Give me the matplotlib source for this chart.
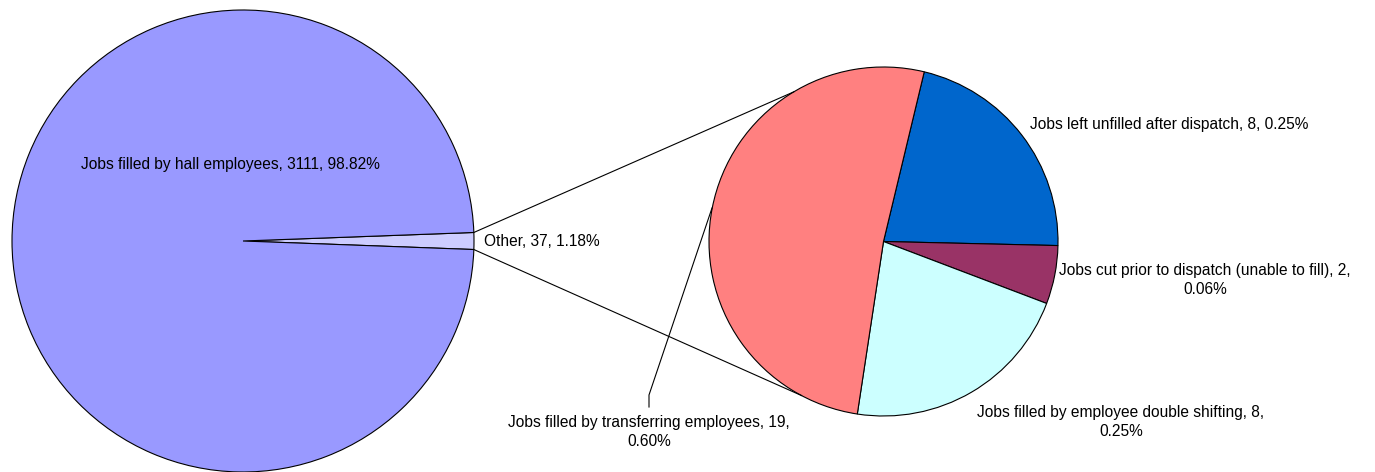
import numpy as np
import matplotlib.pyplot as plt

# ==================================================
# data
# ==================================================

main_labels = ['Jobs filled by hall employees', 'Other']
main_values = [3111, 37]

sub_labels = [
    'Jobs left unfilled after dispatch',
    'Jobs cut prior to dispatch (unable to fill)',
    'Jobs filled by employee double shifting',
    'Jobs filled by transferring employees',
]
sub_values = [8, 2, 8, 19]

total = sum(main_values)

main_colors = ['#9999FF', '#CCCCFF']
sub_colors = ['#0066CC', '#993366', '#CCFFFF', '#FF8080']

plt.rcParams['font.family'] = ['Liberation Sans', 'DejaVu Sans']

# ==================================================
# figure (axes in pixel units, y up)
# ==================================================

fig = plt.figure(figsize=(13.75, 4.72), dpi=100)
ax = fig.add_axes([0, 0, 1, 1])

main_c = (243, 231)
main_r = 231
sub_c = (883.5, 230.5)
sub_r = 174.5

other_share = main_values[1] / total * 360

ax.pie(
    [main_values[1], main_values[0]],
    colors=[main_colors[1], main_colors[0]],
    startangle=-other_share / 2,
    center=main_c,
    radius=main_r,
    wedgeprops=dict(edgecolor='black', linewidth=0.8),
)

ax.pie(
    sub_values,
    colors=sub_colors,
    startangle=76.5,
    counterclock=False,
    center=sub_c,
    radius=sub_r,
    wedgeprops=dict(edgecolor='black', linewidth=0.8),
)

# connector lines
for a_main, a_sub in [(other_share / 2, 121), (-other_share / 2, -118)]:
    x0 = main_c[0] + main_r * np.cos(np.radians(a_main))
    y0 = main_c[1] + main_r * np.sin(np.radians(a_main))
    x1 = sub_c[0] + sub_r * np.cos(np.radians(a_sub))
    y1 = sub_c[1] + sub_r * np.sin(np.radians(a_sub))
    ax.plot([x0, x1], [y0, y1], color='black', linewidth=0.8)

# ==================================================
# labels
# ==================================================

def lab(name, val):
    return f"{name}, {val}, {val / total * 100:.2f}%"

fs = 11.2

ax.text(230, 308, lab(main_labels[0], main_values[0]),
        ha='center', va='center', fontsize=fs)
ax.text(484, 231, lab(main_labels[1], main_values[1]),
        ha='left', va='center', fontsize=fs)

ax.text(1030, 348, lab(sub_labels[0], sub_values[0]),
        ha='left', va='center', fontsize=fs)


def lab2(name, val):
    return f"{name}, {val},\n{val / total * 100:.2f}%"


ax.text(1205, 192, lab2(sub_labels[1], sub_values[1]),
        ha='center', va='center', fontsize=fs, multialignment='center',
        linespacing=1.4)
ax.text(1121, 50, lab2(sub_labels[2], sub_values[2]),
        ha='center', va='center', fontsize=fs, multialignment='center',
        linespacing=1.4)
ax.text(649, 40, lab2(sub_labels[3], sub_values[3]),
        ha='center', va='center', fontsize=fs, multialignment='center',
        linespacing=1.4)

# leader line
ax.plot([649, 649, 712], [65, 77, 264], color='black', linewidth=0.8)

ax.set_xlim(0, 1375)
ax.set_ylim(0, 472)
ax.set_aspect('equal')
ax.axis('off')

plt.savefig('out.png', dpi=100)
